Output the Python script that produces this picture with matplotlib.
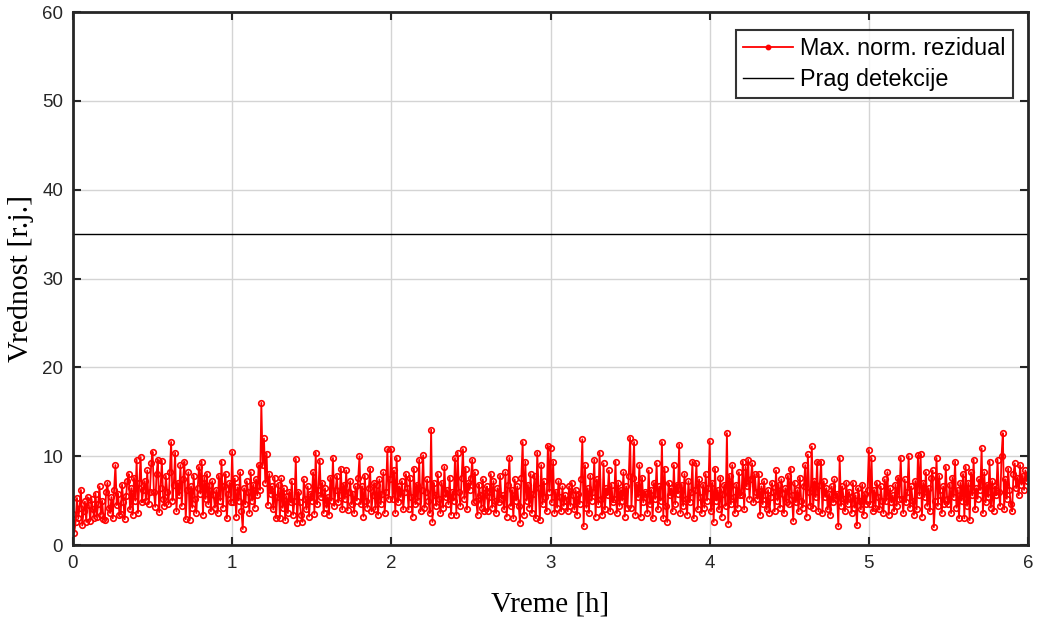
import numpy as np
import matplotlib
matplotlib.use('Agg')
import matplotlib.pyplot as plt

# Maksimalni normalizovani rezidual, odbirak na svakih 30 s (po satima)
sat_1 = [3.5, 1.4, 2.6, 5.3, 3.0, 4.2, 6.2, 2.2, 3.8, 4.9, 2.6, 5.4,
         4.5, 2.7, 5.2, 4.0, 3.0, 5.8, 3.2, 4.6, 6.6, 3.4, 5.0, 2.9,
         2.8, 6.0, 7.0, 4.2, 3.6, 5.4, 3.0, 6.2, 9.0, 4.5, 5.8, 3.4,
         3.5, 6.8, 4.8, 2.9, 5.5, 7.2, 8.0, 4.0, 6.4, 3.4, 7.6, 5.0,
         9.6, 3.6, 7.0, 9.9, 4.8, 6.2, 7.2, 5.0, 8.4, 4.6, 6.0, 9.2,
         10.5, 6.0, 4.3, 8.0, 9.6, 3.7, 6.4, 9.5, 5.2, 4.4, 7.8, 6.0,
         4.6, 8.2, 11.6, 5.0, 6.8, 10.4, 3.8, 7.0, 5.6, 9.0, 4.4, 7.4,
         9.4, 2.9, 6.2, 8.2, 2.8, 6.6, 4.2, 7.8, 5.2, 3.6, 6.4, 8.8,
         5.8, 9.4, 3.4, 7.6, 5.2, 8.0, 4.6, 6.8, 3.8, 7.2, 5.6, 4.2,
         6.2, 3.6, 7.8, 5.0, 9.4, 4.2, 6.6, 8.0, 3.0, 5.8, 7.0, 4.8]
sat_2 = [10.5, 4.8, 7.5, 3.2, 6.5, 5.0, 8.2, 3.8, 1.8, 6.4, 4.6, 7.2,
         6.0, 3.6, 8.2, 5.0, 6.8, 4.2, 7.4, 5.6, 9.0, 6.2, 16.0, 9.0,
         12.0, 7.0, 10.3, 4.5, 8.0, 5.8, 6.6, 4.0, 7.6, 3.0, 5.4, 6.8,
         3.0, 7.5, 4.2, 6.4, 2.8, 5.5, 3.6, 6.0, 4.8, 7.2, 3.4, 5.0,
         9.7, 2.5, 6.0, 4.8, 3.4, 2.6, 7.4, 5.2, 4.0, 6.6, 3.2, 5.8,
         5.0, 8.2, 3.5, 10.4, 4.6, 6.2, 9.5, 5.4, 7.0, 3.6, 6.4, 4.2,
         5.4, 3.4, 7.6, 5.0, 9.8, 4.4, 6.2, 7.8, 4.8, 5.6, 8.6, 4.0,
         6.8, 5.2, 8.4, 3.9, 6.0, 7.2, 4.6, 5.8, 3.6, 6.6, 5.0, 7.6,
         10.0, 4.6, 6.6, 3.2, 7.8, 5.0, 4.2, 6.4, 8.6, 3.8, 5.6, 7.0,
         4.0, 6.8, 3.4, 7.4, 4.6, 5.8, 8.2, 3.6, 6.0, 10.8, 5.2, 7.4]
sat_3 = [10.8, 5.2, 8.4, 3.6, 9.8, 4.8, 6.6, 5.4, 7.2, 4.0, 6.0, 8.0,
         6.4, 4.0, 7.6, 5.4, 3.2, 8.6, 4.6, 6.8, 5.0, 9.6, 3.8, 6.2,
         10.1, 4.2, 6.0, 7.4, 5.0, 3.6, 13.0, 2.6, 7.0, 5.6, 4.4, 8.0,
         5.2, 3.6, 7.0, 4.2, 8.8, 5.4, 6.2, 4.6, 7.6, 3.4, 6.0, 5.0,
         9.8, 3.4, 10.4, 6.0, 4.4, 7.6, 10.8, 5.2, 8.6, 4.0, 7.0, 6.2,
         7.6, 9.6, 4.8, 8.2, 5.0, 3.4, 6.8, 5.6, 4.2, 7.4, 3.8, 6.0,
         6.6, 3.8, 5.4, 8.0, 4.2, 7.2, 5.0, 3.6, 6.4, 4.8, 7.8, 5.2,
         5.6, 4.0, 8.2, 3.2, 6.8, 9.8, 4.4, 6.2, 3.0, 7.4, 5.0, 6.6,
         4.4, 2.5, 7.6, 11.6, 3.4, 9.4, 5.0, 6.8, 4.2, 8.0, 3.6, 5.8,
         7.8, 3.0, 10.4, 6.4, 2.8, 9.0, 4.6, 7.2, 5.4, 3.8, 11.2, 6.0]
sat_4 = [10.9, 4.8, 9.4, 3.6, 6.0, 4.2, 7.2, 5.4, 3.8, 6.6, 4.4, 5.6,
         5.0, 3.8, 6.6, 4.4, 7.0, 5.6, 4.0, 6.2, 3.4, 5.8, 4.6, 7.4,
         11.9, 2.1, 9.0, 4.2, 6.4, 3.6, 7.8, 5.0, 6.0, 9.6, 3.2, 7.4,
         4.6, 10.4, 5.2, 3.4, 9.2, 4.0, 6.4, 5.6, 8.4, 3.8, 6.8, 4.8,
         5.2, 9.4, 3.6, 7.0, 4.4, 6.2, 5.0, 8.2, 3.2, 6.6, 4.2, 7.8,
         12.1, 4.2, 7.6, 11.6, 3.4, 6.8, 5.4, 9.0, 3.2, 7.6, 4.8, 6.0,
         5.8, 3.6, 8.4, 4.6, 6.2, 3.0, 7.0, 5.2, 9.2, 4.0, 6.6, 5.0,
         11.6, 3.0, 8.6, 4.4, 2.6, 7.0, 5.6, 6.4, 3.8, 9.0, 4.6, 6.8,
         5.8, 11.3, 3.6, 6.8, 4.4, 8.0, 5.2, 3.4, 7.2, 4.8, 6.0, 9.4,
         3.0, 6.2, 9.2, 4.0, 7.4, 5.4, 3.6, 6.8, 4.2, 8.0, 5.0, 6.4]
sat_5 = [11.7, 3.8, 7.0, 2.6, 8.6, 5.0, 6.2, 4.0, 7.6, 3.2, 5.8, 6.8,
         4.4, 12.6, 2.4, 7.8, 4.6, 9.0, 5.4, 3.6, 6.8, 4.2, 8.2, 5.6,
         5.6, 9.4, 4.0, 8.8, 6.6, 9.6, 5.2, 7.4, 9.2, 4.8, 8.0, 6.0,
         5.2, 8.0, 3.4, 6.6, 4.6, 7.2, 5.6, 4.0, 6.2, 3.6, 5.4, 7.0,
         6.0, 3.8, 8.4, 5.0, 6.8, 4.2, 7.4, 5.8, 3.6, 6.4, 4.8, 7.8,
         4.6, 8.6, 5.6, 2.7, 7.0, 4.8, 6.2, 3.8, 7.6, 5.0, 4.2, 6.6,
         9.0, 3.2, 10.2, 6.0, 4.4, 11.1, 4.2, 7.2, 5.4, 9.4, 3.8, 6.8,
         9.4, 3.6, 7.2, 5.4, 6.4, 4.0, 5.8, 3.4, 6.6, 4.8, 7.4, 5.2,
         5.8, 2.1, 9.8, 4.4, 6.6, 5.2, 3.8, 7.0, 4.6, 6.0, 5.4, 3.6,
         7.0, 4.2, 5.6, 2.2, 6.4, 5.0, 4.0, 6.8, 3.4, 5.8, 4.6, 6.2]
sat_6 = [10.7, 4.6, 9.8, 3.8, 6.2, 4.2, 7.0, 5.4, 4.0, 6.6, 5.0, 3.6,
         7.4, 5.0, 8.2, 3.4, 6.4, 4.8, 5.6, 3.8, 6.8, 4.4, 7.6, 5.2,
         9.8, 5.2, 3.6, 7.4, 4.8, 6.0, 10.0, 4.2, 6.6, 5.0, 3.4, 7.2,
         4.0, 10.1, 5.6, 10.2, 3.2, 7.0, 5.4, 8.2, 4.4, 6.4, 3.8, 7.6,
         8.4, 2.0, 5.0, 9.8, 4.4, 7.8, 5.6, 3.6, 6.6, 4.6, 8.8, 5.2,
         4.6, 6.8, 3.6, 7.6, 5.4, 9.4, 4.2, 6.2, 3.0, 7.0, 5.0, 8.0,
         3.0, 8.8, 4.4, 7.0, 2.8, 8.2, 5.6, 9.6, 4.0, 6.4, 5.2, 7.4,
         6.2, 10.9, 3.6, 8.2, 4.8, 6.8, 5.4, 9.4, 4.2, 7.2, 3.8, 6.6,
         5.6, 9.6, 6.0, 4.4, 10.0, 12.6, 4.0, 7.4, 5.2, 8.6, 6.2, 4.6,
         3.8, 8.0, 9.2, 6.4, 7.6, 5.6, 9.0, 6.8, 7.8, 6.2, 8.4, 7.2,
         8.0]
prag = 35.0

rezidual = np.array(sat_1 + sat_2 + sat_3 + sat_4 + sat_5 + sat_6)
vreme = np.linspace(0, 6, len(rezidual))

plt.rcParams['font.family'] = 'Liberation Sans'
fig = plt.figure(figsize=(10.38, 6.19), dpi=100)
ax = fig.add_axes([0.0703, 0.1195, 0.9201, 0.8611])

ax.plot(vreme, rezidual, color='red', lw=1.3, marker='o', ms=4.0,
        mfc='none', mew=1.2, label='Max. norm. rezidual')
ax.axhline(prag, color='black', lw=1.0, label='Prag detekcije')

ax.set_xlim(0, 6)
ax.set_ylim(0, 60)
ax.set_xticks(range(0, 7))
ax.set_yticks(range(0, 61, 10))
ax.grid(True, color='#d4d4d4', lw=1.0)
ax.set_axisbelow(True)
ax.tick_params(direction='in', length=6, width=1.5, top=True, right=True,
               labelsize=13.5, colors='#262626', pad=7)
for s in ax.spines.values():
    s.set_linewidth(2.0)
    s.set_color('#262626')

ax.set_xlabel('Vreme [h]', family='Liberation Serif', fontsize=21, labelpad=14)
ax.set_ylabel('Vrednost [r.j.]', family='Liberation Serif', fontsize=21.5, labelpad=6)

leg = ax.legend(loc='upper right', bbox_to_anchor=(0.984, 0.966), fontsize=16.8,
                frameon=True, fancybox=False, edgecolor='black',
                handlelength=2.15, borderpad=0.3, labelspacing=0.35,
                handletextpad=0.3, borderaxespad=0.0)
leg.get_frame().set_linewidth(1.5)
leg.legend_handles[0].set_markersize(3)
leg.legend_handles[0].set_markerfacecolor('red')

fig.savefig('out.png', dpi=100)
